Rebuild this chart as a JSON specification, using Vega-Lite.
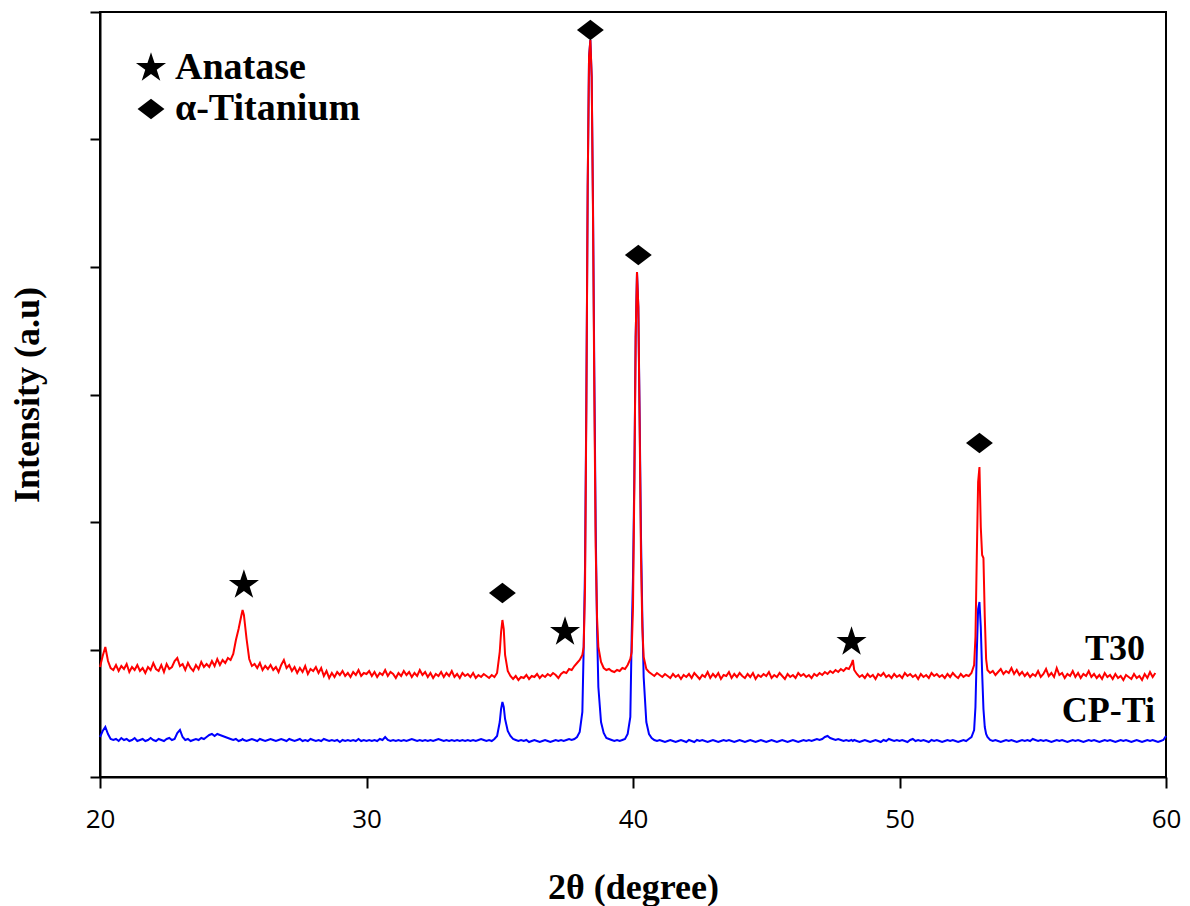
{
  "$schema": "https://vega.github.io/schema/vega-lite/v6.json",
  "width": 1066,
  "height": 765,
  "autosize": {"type": "none"},
  "padding": {"left": 100, "top": 12, "right": 24, "bottom": 129},
  "background": "white",
  "datasets": {
    "xrd": [
      {"x":20.0,"r":110,"b":40},{"x":20.1,"r":121,"b":46},{"x":20.2,"r":130,"b":50},{"x":20.3,"r":116,"b":43},{"x":20.4,"r":109,"b":38},
      {"x":20.5,"r":107,"b":37},{"x":20.6,"r":112,"b":38},{"x":20.7,"r":106,"b":36},{"x":20.8,"r":111,"b":39},{"x":20.9,"r":108,"b":37},
      {"x":21.0,"r":113,"b":38},{"x":21.1,"r":105,"b":36},{"x":21.2,"r":110,"b":37},{"x":21.3,"r":107,"b":39},{"x":21.4,"r":112,"b":36},
      {"x":21.5,"r":106,"b":37},{"x":21.6,"r":109,"b":38},{"x":21.7,"r":104,"b":36},{"x":21.8,"r":110,"b":37},{"x":21.9,"r":107,"b":39},
      {"x":22.0,"r":114,"b":37},{"x":22.1,"r":108,"b":36},{"x":22.2,"r":106,"b":38},{"x":22.3,"r":112,"b":37},{"x":22.4,"r":105,"b":36},
      {"x":22.5,"r":113,"b":38},{"x":22.6,"r":108,"b":39},{"x":22.7,"r":110,"b":37},{"x":22.8,"r":116,"b":38},{"x":22.9,"r":119,"b":44},
      {"x":23.0,"r":111,"b":47},{"x":23.1,"r":113,"b":40},{"x":23.2,"r":107,"b":37},{"x":23.3,"r":114,"b":38},{"x":23.4,"r":109,"b":36},
      {"x":23.5,"r":106,"b":37},{"x":23.6,"r":112,"b":38},{"x":23.7,"r":108,"b":37},{"x":23.8,"r":115,"b":39},{"x":23.9,"r":110,"b":38},
      {"x":24.0,"r":113,"b":40},{"x":24.1,"r":110,"b":42},{"x":24.2,"r":116,"b":43},{"x":24.3,"r":111,"b":41},{"x":24.4,"r":118,"b":43},
      {"x":24.5,"r":112,"b":42},{"x":24.6,"r":117,"b":41},{"x":24.7,"r":114,"b":40},{"x":24.8,"r":119,"b":39},{"x":24.9,"r":117,"b":38},
      {"x":25.0,"r":123,"b":37},{"x":25.1,"r":137,"b":38},{"x":25.2,"r":148,"b":36},{"x":25.3,"r":161,"b":37},{"x":25.35,"r":167,"b":38},
      {"x":25.4,"r":162,"b":37},{"x":25.5,"r":138,"b":36},{"x":25.6,"r":118,"b":37},{"x":25.7,"r":111,"b":38},{"x":25.8,"r":113,"b":37},
      {"x":25.9,"r":109,"b":36},{"x":26.0,"r":114,"b":38},{"x":26.1,"r":107,"b":37},{"x":26.2,"r":111,"b":36},{"x":26.3,"r":108,"b":37},
      {"x":26.4,"r":112,"b":38},{"x":26.5,"r":107,"b":37},{"x":26.6,"r":110,"b":36},{"x":26.7,"r":105,"b":37},{"x":26.8,"r":112,"b":38},
      {"x":26.9,"r":117,"b":37},{"x":27.0,"r":109,"b":36},{"x":27.1,"r":112,"b":38},{"x":27.2,"r":106,"b":37},{"x":27.3,"r":110,"b":36},
      {"x":27.4,"r":104,"b":37},{"x":27.5,"r":109,"b":38},{"x":27.6,"r":105,"b":36},{"x":27.7,"r":111,"b":37},{"x":27.8,"r":103,"b":36},
      {"x":27.9,"r":108,"b":38},{"x":28.0,"r":106,"b":37},{"x":28.1,"r":110,"b":36},{"x":28.2,"r":104,"b":37},{"x":28.3,"r":109,"b":36},
      {"x":28.4,"r":101,"b":38},{"x":28.5,"r":106,"b":37},{"x":28.6,"r":99,"b":36},{"x":28.7,"r":104,"b":37},{"x":28.8,"r":100,"b":36},
      {"x":28.9,"r":105,"b":37},{"x":29.0,"r":102,"b":35},{"x":29.1,"r":106,"b":37},{"x":29.2,"r":101,"b":36},{"x":29.3,"r":104,"b":37},
      {"x":29.4,"r":100,"b":36},{"x":29.5,"r":105,"b":37},{"x":29.6,"r":102,"b":36},{"x":29.7,"r":107,"b":38},{"x":29.8,"r":101,"b":36},
      {"x":29.9,"r":104,"b":37},{"x":30.0,"r":103,"b":36},{"x":30.1,"r":106,"b":37},{"x":30.2,"r":101,"b":36},{"x":30.3,"r":105,"b":37},
      {"x":30.4,"r":100,"b":36},{"x":30.5,"r":104,"b":38},{"x":30.6,"r":102,"b":37},{"x":30.7,"r":107,"b":40},{"x":30.8,"r":101,"b":37},
      {"x":30.9,"r":105,"b":36},{"x":31.0,"r":103,"b":37},{"x":31.1,"r":99,"b":36},{"x":31.2,"r":104,"b":37},{"x":31.3,"r":101,"b":36},
      {"x":31.4,"r":106,"b":37},{"x":31.5,"r":102,"b":36},{"x":31.6,"r":105,"b":37},{"x":31.7,"r":100,"b":38},{"x":31.8,"r":104,"b":37},
      {"x":31.9,"r":101,"b":36},{"x":32.0,"r":107,"b":37},{"x":32.1,"r":102,"b":36},{"x":32.2,"r":105,"b":37},{"x":32.3,"r":100,"b":36},
      {"x":32.4,"r":104,"b":37},{"x":32.5,"r":99,"b":36},{"x":32.6,"r":103,"b":37},{"x":32.7,"r":101,"b":38},{"x":32.8,"r":105,"b":37},
      {"x":32.9,"r":100,"b":36},{"x":33.0,"r":104,"b":37},{"x":33.1,"r":101,"b":36},{"x":33.2,"r":106,"b":37},{"x":33.3,"r":100,"b":36},
      {"x":33.4,"r":103,"b":37},{"x":33.5,"r":99,"b":36},{"x":33.6,"r":104,"b":37},{"x":33.7,"r":101,"b":36},{"x":33.8,"r":103,"b":37},
      {"x":33.9,"r":100,"b":36},{"x":34.0,"r":104,"b":37},{"x":34.1,"r":99,"b":36},{"x":34.2,"r":102,"b":37},{"x":34.3,"r":100,"b":38},
      {"x":34.4,"r":103,"b":37},{"x":34.5,"r":101,"b":36},{"x":34.6,"r":99,"b":37},{"x":34.7,"r":102,"b":36},{"x":34.8,"r":100,"b":38},
      {"x":34.9,"r":104,"b":41},{"x":35.0,"r":125,"b":55},{"x":35.05,"r":145,"b":68},{"x":35.1,"r":157,"b":75},{"x":35.15,"r":148,"b":70},
      {"x":35.2,"r":122,"b":58},{"x":35.3,"r":106,"b":46},{"x":35.4,"r":101,"b":41},{"x":35.5,"r":98,"b":38},{"x":35.6,"r":101,"b":37},
      {"x":35.7,"r":97,"b":36},{"x":35.8,"r":100,"b":37},{"x":35.9,"r":99,"b":36},{"x":36.0,"r":102,"b":37},{"x":36.1,"r":98,"b":35},
      {"x":36.2,"r":101,"b":36},{"x":36.3,"r":100,"b":37},{"x":36.4,"r":103,"b":36},{"x":36.5,"r":99,"b":35},{"x":36.6,"r":102,"b":36},
      {"x":36.7,"r":100,"b":37},{"x":36.8,"r":103,"b":36},{"x":36.9,"r":101,"b":35},{"x":37.0,"r":104,"b":36},{"x":37.1,"r":102,"b":37},
      {"x":37.2,"r":99,"b":36},{"x":37.3,"r":103,"b":37},{"x":37.4,"r":105,"b":36},{"x":37.5,"r":104,"b":37},{"x":37.6,"r":108,"b":38},
      {"x":37.7,"r":107,"b":37},{"x":37.8,"r":111,"b":38},{"x":37.9,"r":114,"b":40},{"x":38.0,"r":117,"b":45},{"x":38.1,"r":122,"b":65},
      {"x":38.15,"r":130,"b":130},{"x":38.2,"r":190,"b":210},{"x":38.25,"r":370,"b":380},{"x":38.3,"r":590,"b":590},{"x":38.35,"r":720,"b":720},
      {"x":38.4,"r":737,"b":737},{"x":38.45,"r":700,"b":700},{"x":38.5,"r":560,"b":570},{"x":38.55,"r":380,"b":400},{"x":38.6,"r":230,"b":250},
      {"x":38.65,"r":160,"b":150},{"x":38.7,"r":130,"b":90},{"x":38.8,"r":115,"b":55},{"x":38.9,"r":109,"b":44},{"x":39.0,"r":107,"b":39},
      {"x":39.1,"r":108,"b":38},{"x":39.2,"r":106,"b":37},{"x":39.3,"r":105,"b":36},{"x":39.4,"r":107,"b":37},{"x":39.5,"r":106,"b":36},
      {"x":39.6,"r":109,"b":37},{"x":39.7,"r":108,"b":38},{"x":39.8,"r":112,"b":43},{"x":39.9,"r":118,"b":60},{"x":39.95,"r":125,"b":140},
      {"x":40.0,"r":170,"b":200},{"x":40.05,"r":290,"b":300},{"x":40.1,"r":440,"b":440},{"x":40.15,"r":505,"b":505},{"x":40.2,"r":470,"b":470},
      {"x":40.25,"r":350,"b":360},{"x":40.3,"r":220,"b":240},{"x":40.35,"r":150,"b":160},{"x":40.4,"r":120,"b":100},{"x":40.5,"r":108,"b":55},
      {"x":40.6,"r":105,"b":43},{"x":40.7,"r":103,"b":39},{"x":40.8,"r":101,"b":37},{"x":40.9,"r":104,"b":36},{"x":41.0,"r":102,"b":37},
      {"x":41.1,"r":100,"b":36},{"x":41.2,"r":103,"b":35},{"x":41.3,"r":101,"b":36},{"x":41.4,"r":99,"b":37},{"x":41.5,"r":103,"b":36},
      {"x":41.6,"r":100,"b":35},{"x":41.7,"r":102,"b":36},{"x":41.8,"r":98,"b":37},{"x":41.9,"r":102,"b":36},{"x":42.0,"r":100,"b":35},
      {"x":42.1,"r":103,"b":37},{"x":42.2,"r":99,"b":36},{"x":42.3,"r":104,"b":35},{"x":42.4,"r":101,"b":37},{"x":42.5,"r":98,"b":36},
      {"x":42.6,"r":102,"b":37},{"x":42.7,"r":100,"b":36},{"x":42.8,"r":105,"b":35},{"x":42.9,"r":99,"b":36},{"x":43.0,"r":103,"b":37},
      {"x":43.1,"r":100,"b":36},{"x":43.2,"r":104,"b":35},{"x":43.3,"r":98,"b":36},{"x":43.4,"r":102,"b":37},{"x":43.5,"r":101,"b":36},
      {"x":43.6,"r":105,"b":37},{"x":43.7,"r":99,"b":36},{"x":43.8,"r":103,"b":35},{"x":43.9,"r":100,"b":36},{"x":44.0,"r":104,"b":37},
      {"x":44.1,"r":101,"b":36},{"x":44.2,"r":99,"b":35},{"x":44.3,"r":103,"b":36},{"x":44.4,"r":100,"b":37},{"x":44.5,"r":104,"b":36},
      {"x":44.6,"r":98,"b":35},{"x":44.7,"r":102,"b":36},{"x":44.8,"r":100,"b":37},{"x":44.9,"r":103,"b":36},{"x":45.0,"r":101,"b":35},
      {"x":45.1,"r":105,"b":36},{"x":45.2,"r":99,"b":37},{"x":45.3,"r":102,"b":36},{"x":45.4,"r":100,"b":35},{"x":45.5,"r":104,"b":36},
      {"x":45.6,"r":101,"b":37},{"x":45.7,"r":98,"b":36},{"x":45.8,"r":103,"b":35},{"x":45.9,"r":100,"b":36},{"x":46.0,"r":102,"b":37},
      {"x":46.1,"r":99,"b":36},{"x":46.2,"r":104,"b":35},{"x":46.3,"r":101,"b":36},{"x":46.4,"r":103,"b":37},{"x":46.5,"r":100,"b":36},
      {"x":46.6,"r":102,"b":37},{"x":46.7,"r":99,"b":36},{"x":46.8,"r":103,"b":37},{"x":46.9,"r":101,"b":38},{"x":47.0,"r":104,"b":37},
      {"x":47.1,"r":102,"b":38},{"x":47.2,"r":105,"b":40},{"x":47.3,"r":103,"b":41},{"x":47.4,"r":106,"b":39},{"x":47.5,"r":104,"b":38},
      {"x":47.6,"r":107,"b":37},{"x":47.7,"r":105,"b":38},{"x":47.8,"r":108,"b":37},{"x":47.9,"r":106,"b":36},{"x":48.0,"r":109,"b":37},
      {"x":48.1,"r":108,"b":36},{"x":48.2,"r":113,"b":37},{"x":48.25,"r":117,"b":36},{"x":48.3,"r":107,"b":37},{"x":48.4,"r":103,"b":36},
      {"x":48.5,"r":100,"b":35},{"x":48.6,"r":102,"b":36},{"x":48.7,"r":99,"b":37},{"x":48.8,"r":103,"b":36},{"x":48.9,"r":100,"b":35},
      {"x":49.0,"r":102,"b":36},{"x":49.1,"r":98,"b":37},{"x":49.2,"r":103,"b":36},{"x":49.3,"r":101,"b":35},{"x":49.4,"r":104,"b":37},
      {"x":49.5,"r":100,"b":36},{"x":49.6,"r":102,"b":38},{"x":49.7,"r":99,"b":37},{"x":49.8,"r":103,"b":36},{"x":49.9,"r":100,"b":37},
      {"x":50.0,"r":102,"b":36},{"x":50.1,"r":99,"b":37},{"x":50.2,"r":104,"b":36},{"x":50.3,"r":101,"b":35},{"x":50.4,"r":103,"b":37},
      {"x":50.5,"r":100,"b":38},{"x":50.6,"r":102,"b":36},{"x":50.7,"r":98,"b":37},{"x":50.8,"r":103,"b":36},{"x":50.9,"r":100,"b":37},
      {"x":51.0,"r":102,"b":36},{"x":51.1,"r":99,"b":35},{"x":51.2,"r":104,"b":37},{"x":51.3,"r":101,"b":36},{"x":51.4,"r":103,"b":37},
      {"x":51.5,"r":100,"b":36},{"x":51.6,"r":102,"b":35},{"x":51.7,"r":99,"b":36},{"x":51.8,"r":103,"b":37},{"x":51.9,"r":100,"b":36},
      {"x":52.0,"r":104,"b":37},{"x":52.1,"r":101,"b":36},{"x":52.2,"r":99,"b":35},{"x":52.3,"r":103,"b":36},{"x":52.4,"r":100,"b":37},
      {"x":52.5,"r":102,"b":36},{"x":52.6,"r":101,"b":38},{"x":52.7,"r":104,"b":40},{"x":52.8,"r":112,"b":47},{"x":52.85,"r":140,"b":70},
      {"x":52.9,"r":220,"b":125},{"x":52.95,"r":295,"b":168},{"x":53.0,"r":310,"b":175},{"x":53.05,"r":250,"b":150},{"x":53.1,"r":222,"b":105},
      {"x":53.15,"r":219,"b":68},{"x":53.2,"r":160,"b":50},{"x":53.25,"r":118,"b":43},{"x":53.3,"r":107,"b":40},{"x":53.4,"r":104,"b":37},
      {"x":53.5,"r":106,"b":36},{"x":53.6,"r":102,"b":37},{"x":53.7,"r":105,"b":36},{"x":53.8,"r":108,"b":35},{"x":53.9,"r":103,"b":36},
      {"x":54.0,"r":106,"b":37},{"x":54.1,"r":104,"b":36},{"x":54.2,"r":109,"b":37},{"x":54.3,"r":103,"b":36},{"x":54.4,"r":107,"b":35},
      {"x":54.5,"r":102,"b":36},{"x":54.6,"r":105,"b":37},{"x":54.7,"r":101,"b":36},{"x":54.8,"r":104,"b":37},{"x":54.9,"r":100,"b":36},
      {"x":55.0,"r":103,"b":38},{"x":55.1,"r":101,"b":37},{"x":55.2,"r":106,"b":36},{"x":55.3,"r":100,"b":37},{"x":55.4,"r":103,"b":36},
      {"x":55.5,"r":108,"b":37},{"x":55.6,"r":101,"b":36},{"x":55.7,"r":104,"b":35},{"x":55.8,"r":100,"b":36},{"x":55.9,"r":109,"b":37},
      {"x":56.0,"r":102,"b":36},{"x":56.1,"r":104,"b":37},{"x":56.2,"r":99,"b":36},{"x":56.3,"r":103,"b":35},{"x":56.4,"r":101,"b":36},
      {"x":56.5,"r":106,"b":37},{"x":56.6,"r":100,"b":36},{"x":56.7,"r":104,"b":37},{"x":56.8,"r":99,"b":36},{"x":56.9,"r":103,"b":35},
      {"x":57.0,"r":101,"b":36},{"x":57.1,"r":106,"b":37},{"x":57.2,"r":100,"b":36},{"x":57.3,"r":103,"b":37},{"x":57.4,"r":99,"b":36},
      {"x":57.5,"r":102,"b":35},{"x":57.6,"r":98,"b":36},{"x":57.7,"r":104,"b":37},{"x":57.8,"r":100,"b":36},{"x":57.9,"r":102,"b":37},
      {"x":58.0,"r":98,"b":36},{"x":58.1,"r":103,"b":35},{"x":58.2,"r":99,"b":36},{"x":58.3,"r":101,"b":37},{"x":58.4,"r":97,"b":36},
      {"x":58.5,"r":102,"b":37},{"x":58.6,"r":100,"b":36},{"x":58.7,"r":98,"b":35},{"x":58.8,"r":103,"b":36},{"x":58.9,"r":99,"b":37},
      {"x":59.0,"r":101,"b":36},{"x":59.1,"r":97,"b":35},{"x":59.2,"r":103,"b":36},{"x":59.3,"r":99,"b":37},{"x":59.4,"r":105,"b":36},
      {"x":59.5,"r":100,"b":37},{"x":59.6,"r":104,"b":36},{"x":59.7,"b":35},{"x":59.8,"b":36},{"x":59.9,"b":37},{"x":60.0,"b":41}
    ],
    "markers": [
      {"x":25.4,"v":192,"phase":"Anatase"},
      {"x":37.45,"v":145,"phase":"Anatase"},
      {"x":48.2,"v":135,"phase":"Anatase"},
      {"x":35.1,"v":184,"phase":"α-Titanium"},
      {"x":38.4,"v":747,"phase":"α-Titanium"},
      {"x":40.2,"v":522,"phase":"α-Titanium"},
      {"x":53.0,"v":334,"phase":"α-Titanium"}
    ],
    "labels": [
      {"x":59.21,"v":117,"label":"T30"},
      {"x":59.59,"v":55,"label":"CP-Ti"}
    ]
  },
  "encoding": {
    "x": {
      "field": "x",
      "type": "quantitative",
      "title": "2θ (degree)",
      "scale": {"domain": [20, 60], "nice": false, "zero": false},
      "axis": {"values": [20, 30, 40, 50, 60], "format": "d"}
    }
  },
  "layer": [
    {
      "data": {"name": "xrd"},
      "mark": {"type": "line", "color": "#0000ff", "strokeWidth": 2},
      "encoding": {
        "y": {"field": "b", "type": "quantitative", "title": "Intensity (a.u)",
              "scale": {"domain": [0, 765], "nice": false, "zero": false},
              "axis": {"values": [0, 127.5, 255, 382.5, 510, 637.5, 765]}}
      }
    },
    {
      "data": {"name": "xrd"},
      "mark": {"type": "line", "color": "#ff0000", "strokeWidth": 2},
      "encoding": {
        "y": {"field": "r", "type": "quantitative", "title": "Intensity (a.u)",
              "scale": {"domain": [0, 765], "nice": false, "zero": false},
              "axis": {"values": [0, 127.5, 255, 382.5, 510, 637.5, 765]}}
      }
    },
    {
      "data": {"name": "markers"},
      "mark": {"type": "point", "filled": true, "color": "black", "opacity": 1, "size": 1000, "strokeWidth": 0},
      "encoding": {
        "y": {"field": "v", "type": "quantitative", "title": "Intensity (a.u)",
              "scale": {"domain": [0, 765], "nice": false, "zero": false},
              "axis": {"values": [0, 127.5, 255, 382.5, 510, 637.5, 765]}},
        "shape": {
          "field": "phase",
          "type": "nominal",
          "scale": {
            "domain": ["Anatase", "α-Titanium"],
            "range": [
              "M0,-1L0.225,-0.309L0.951,-0.309L0.363,0.118L0.588,0.809L0,0.382L-0.588,0.809L-0.363,0.118L-0.951,-0.309L-0.225,-0.309Z",
              "M-0.85,0L0,-0.65L0.85,0L0,0.65Z"
            ]
          },
          "legend": {
            "title": null,
            "orient": "none",
            "legendX": 32,
            "legendY": 37,
            "padding": 0,
            "labelFont": "Liberation Serif",
            "labelFontWeight": "bold",
            "labelFontSize": 38,
            "labelColor": "black",
            "labelLimit": 0,
            "labelOffset": 5,
            "rowPadding": 3,
            "symbolSize": 1000,
            "symbolFillColor": "black",
            "symbolStrokeWidth": 0,
            "symbolOpacity": 1
          }
        }
      }
    },
    {
      "data": {"name": "labels"},
      "mark": {"type": "text", "align": "right", "baseline": "alphabetic", "font": "Liberation Serif", "fontWeight": "bold", "fontSize": 36, "color": "black"},
      "encoding": {
        "y": {"field": "v", "type": "quantitative", "title": "Intensity (a.u)",
              "scale": {"domain": [0, 765], "nice": false, "zero": false},
              "axis": {"values": [0, 127.5, 255, 382.5, 510, 637.5, 765]}},
        "text": {"field": "label"}
      }
    }
  ],
  "config": {
    "view": {"stroke": "black", "strokeWidth": 2},
    "axis": {
      "grid": false,
      "domainColor": "black",
      "domainWidth": 2,
      "tickColor": "black",
      "tickWidth": 2,
      "labelFont": "Open Sans",
      "labelFontSize": 26,
      "labelColor": "black",
      "titleFont": "Liberation Serif",
      "titleFontWeight": "bold",
      "titleFontSize": 36,
      "titleColor": "black"
    },
    "axisX": {
      "tickSize": 11,
      "labelPadding": 18,
      "labelFlush": false,
      "labelOverlap": false,
      "titleY": 121,
      "titleBaseline": "alphabetic"
    },
    "axisY": {
      "tickSize": 10,
      "labels": false,
      "titleX": -62,
      "titleY": 382.5,
      "titleAngle": -90,
      "titleAlign": "center",
      "titleBaseline": "alphabetic"
    }
  }
}
